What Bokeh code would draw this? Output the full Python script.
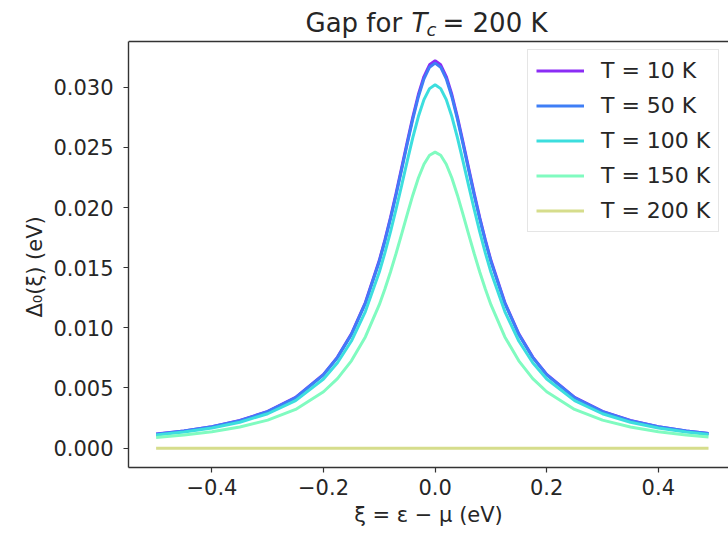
from bokeh.plotting import figure
from bokeh.models import (Range1d, LinearAxis, FixedTicker, CustomJSTickFormatter,
                          Legend, LegendItem, Label, Span, Title)
from bokeh.embed import file_html
from bokeh.resources import INLINE

# ---- data ----
XI = [-0.5, -0.45, -0.4, -0.35, -0.3, -0.25, -0.2, -0.175, -0.15, -0.125, -0.1,
      -0.09, -0.08, -0.07, -0.06, -0.05, -0.04, -0.03, -0.02, -0.01, 0.0,
      0.01, 0.02, 0.03, 0.04, 0.05, 0.06, 0.07, 0.08, 0.09, 0.1,
      0.125, 0.15, 0.175, 0.2, 0.25, 0.3, 0.35, 0.4, 0.45, 0.49]

GAP_T10 = [0.001168, 0.001430, 0.001788, 0.002297, 0.003048, 0.004213, 0.006132, 0.007568, 0.009496, 0.012102, 0.015610,
           0.017304, 0.019164, 0.021173, 0.023291, 0.025441, 0.027519, 0.029389, 0.030887, 0.031861, 0.032200,
           0.031861, 0.030887, 0.029389, 0.027519, 0.025441, 0.023291, 0.021173, 0.019164, 0.017304, 0.015610,
           0.012102, 0.009496, 0.007568, 0.006132, 0.004213, 0.003048, 0.002297, 0.001788, 0.001430, 0.001214]
GAP_T50 = [0.001161, 0.001421, 0.001777, 0.002283, 0.003029, 0.004187, 0.006094, 0.007521, 0.009437, 0.012027, 0.015513,
           0.017196, 0.019045, 0.021042, 0.023147, 0.025283, 0.027348, 0.029206, 0.030695, 0.031663, 0.032000,
           0.031663, 0.030695, 0.029206, 0.027348, 0.025283, 0.023147, 0.021042, 0.019045, 0.017196, 0.015513,
           0.012027, 0.009437, 0.007521, 0.006094, 0.004187, 0.003029, 0.002283, 0.001777, 0.001421, 0.001207]
GAP_T100 = [0.001095, 0.001341, 0.001677, 0.002154, 0.002858, 0.003951, 0.005751, 0.007098, 0.008906, 0.011350, 0.014640,
            0.016229, 0.017974, 0.019858, 0.021845, 0.023860, 0.025810, 0.027564, 0.028968, 0.029882, 0.030200,
            0.029882, 0.028968, 0.027564, 0.025810, 0.023860, 0.021845, 0.019858, 0.017974, 0.016229, 0.014640,
            0.011350, 0.008906, 0.007098, 0.005751, 0.003951, 0.002858, 0.002154, 0.001677, 0.001341, 0.001139]
GAP_T150 = [0.000892, 0.001092, 0.001366, 0.001755, 0.002328, 0.003219, 0.004685, 0.005781, 0.007255, 0.009246, 0.011926,
            0.013220, 0.014641, 0.016176, 0.017794, 0.019436, 0.021024, 0.022452, 0.023597, 0.024341, 0.024600,
            0.024341, 0.023597, 0.022452, 0.021024, 0.019436, 0.017794, 0.016176, 0.014641, 0.013220, 0.011926,
            0.009246, 0.007255, 0.005781, 0.004685, 0.003219, 0.002328, 0.001755, 0.001366, 0.001092, 0.000928]
GAP_T200 = [0.0] * 41

TEMPS = [10, 50, 100, 150, 200]
SERIES = [GAP_T10, GAP_T50, GAP_T100, GAP_T150, GAP_T200]
COLORS = ["#8b2cf5", "#3f7ef6", "#3cdede", "#80fbc0", "#d6dd8c"]
LEGEND_LABELS = ["T = 10 K", "T = 50 K", "T = 100 K", "T = 150 K", "T = 200 K"]

X_TICKS = [-0.4, -0.2, 0.0, 0.2, 0.4]
Y_TICKS = [0.000, 0.005, 0.010, 0.015, 0.020, 0.025, 0.030]

X_LABEL = "ξ = ε − μ (eV)"
Y_LABEL = "Δ₀(ξ) (eV)"

Y_MIN, Y_MAX = -0.00161, 0.0338      # axes box limits
Y_ROOM = 0.003407                     # space above the box kept for the title

FONT = "DejaVu Sans"
TICK_FS = "21px"
TEXT_COLOR = "#262626"
SPINE = "#333333"

p = figure(width=728, height=536, output_backend="svg", toolbar_location=None,
           x_range=Range1d(-0.5495, 0.5258), y_range=Range1d(Y_MIN, Y_MAX + Y_ROOM),
           x_axis_location=None, y_axis_location=None,
           min_border_left=128, min_border_right=0, min_border_top=0, min_border_bottom=69)
p.outline_line_color = None
p.xgrid.visible = False
p.ygrid.visible = False
p.background_fill_color = "white"
p.border_fill_color = "white"

renderers = []
for vals, col in zip(SERIES, COLORS):
    r = p.line(XI, vals, line_color=col, line_width=3)
    renderers.append(r)


def style_axis(ax):
    ax.axis_line_color = SPINE
    ax.axis_line_width = 1.4
    ax.major_tick_line_color = SPINE
    ax.major_tick_line_width = 1.2
    ax.major_tick_out = 5
    ax.major_tick_in = 0
    ax.minor_tick_line_color = None
    ax.major_label_text_font = FONT
    ax.major_label_text_font_size = TICK_FS
    ax.major_label_text_color = TEXT_COLOR
    ax.axis_label_text_font = FONT
    ax.axis_label_text_font_size = TICK_FS
    ax.axis_label_text_font_style = "normal"
    ax.axis_label_text_color = TEXT_COLOR


xaxis = LinearAxis(axis_label=X_LABEL, ticker=FixedTicker(ticks=X_TICKS),
                   formatter=CustomJSTickFormatter(code="return tick.toFixed(1).replace('-', '\u2212');"))
style_axis(xaxis)
xaxis.major_label_standoff = 6
xaxis.axis_label_standoff = 5
p.add_layout(xaxis, "below")

yaxis = LinearAxis(ticker=FixedTicker(ticks=Y_TICKS), bounds=(Y_MIN, Y_MAX),
                   formatter=CustomJSTickFormatter(code="return tick.toFixed(3);"))
style_axis(yaxis)
yaxis.major_label_standoff = 10
p.add_layout(yaxis, "left")

# y label as a side title so it can be centred on the axes box, not on the whole frame
ylab = Title(text=Y_LABEL, align="left", offset=150, standoff=8,
             text_font=FONT, text_font_size=TICK_FS, text_font_style="normal",
             text_color=TEXT_COLOR)
p.add_layout(ylab, "left")

# top spine of the axes box
p.add_layout(Span(location=Y_MAX, dimension="width", line_color=SPINE, line_width=1.4))

legend = Legend(items=[LegendItem(label=lab, renderers=[r]) for lab, r in zip(LEGEND_LABELS, renderers)],
                location=(399, 235))
legend.label_text_font = FONT
legend.label_text_font_size = "22px"
legend.label_text_color = TEXT_COLOR
legend.glyph_width = 48
legend.glyph_height = 25
legend.label_height = 25
legend.spacing = 10
legend.padding = 8
legend.label_standoff = 17
legend.margin = 0
legend.border_line_color = "#cccccc"
legend.border_line_width = 1.2
legend.background_fill_alpha = 0.85
p.add_layout(legend, "center")

# Title built from pieces so the T can be italic with a subscript c
TITLE_PARTS = [("Gap for", "normal", "26px", 177, 445),
               ("T", "italic", "26px", 283, 445),
               ("c", "italic", "18px", 298, 438),
               ("= 200 K", "normal", "26px", 314, 445)]
for txt, style, fs, x, y in TITLE_PARTS:
    p.add_layout(Label(x=x, y=y, x_units="screen", y_units="screen", text=txt,
                       text_font=FONT, text_font_size=fs, text_font_style=style,
                       text_color=TEXT_COLOR, text_baseline="middle"))

open("out.html", "w").write(file_html(p, INLINE))
